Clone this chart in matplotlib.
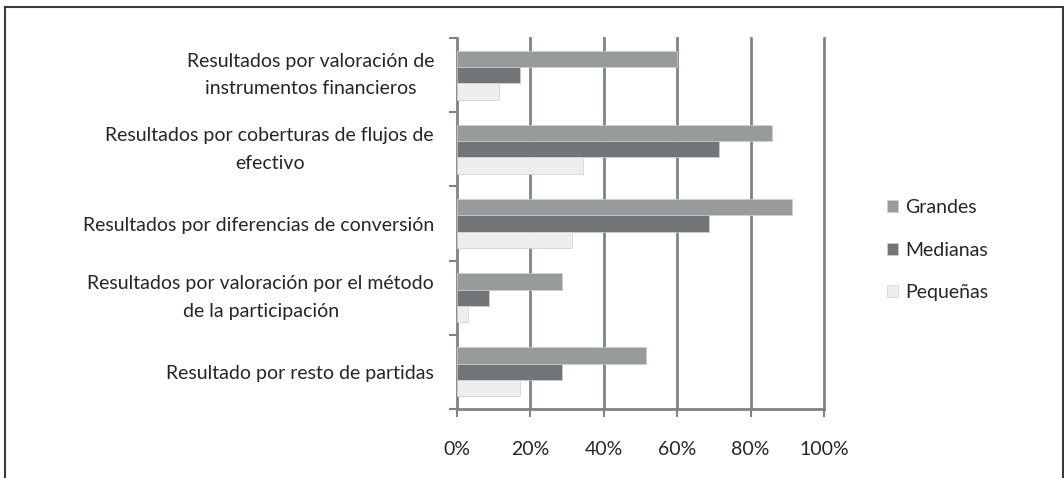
import matplotlib
matplotlib.use("Agg")
import matplotlib.pyplot as plt
import numpy as np
from matplotlib.lines import Line2D

categories = [
    "Resultados por valoración de\ninstrumentos financieros",
    "Resultados por coberturas de flujos de\nefectivo",
    "Resultados por diferencias de conversión",
    "Resultados por valoración por el método\nde la participación",
    "Resultado por resto de partidas",
]
series_names = ["Grandes", "Medianas", "Pequeñas"]
grandes = [60.0, 85.7, 91.4, 28.6, 51.4]
medianas = [17.1, 71.4, 68.6, 8.6, 28.6]
pequenas = [11.4, 34.3, 31.4, 2.9, 17.1]
xticks = [0, 20, 40, 60, 80, 100]
xticklabels = ["0%", "20%", "40%", "60%", "80%", "100%"]

colors = ["#989b9b", "#717577", "#eeeeee"]
grid_color = "#7e8383"
text_color = "#262626"

plt.rcParams['font.family'] = ['Lato', 'DejaVu Sans']
fs = 14

fig = plt.figure(figsize=(10.64, 4.78), dpi=100)
ax = fig.add_axes([457/1064, 1 - 409/478, (824 - 457)/1064, (409 - 38)/478])

idx = np.arange(len(categories))
h = 0.22
for k, (vals, col) in enumerate(zip([grandes, medianas, pequenas], colors)):
    ax.barh(idx + (k - 1) * h, vals, height=h, color=col, label=series_names[k],
            edgecolor="#d0d0d0", linewidth=0.5, zorder=3)

ax.set_xlim(0, 100)
ax.set_ylim(len(categories) - 0.5, -0.5)
ax.set_xticks(xticks)
ax.set_xticklabels(xticklabels, fontsize=fs, color=text_color)
ax.set_yticks(idx)
ax.set_yticklabels(categories, fontsize=fs, color=text_color, linespacing=1.75,
                   multialignment='center')
for lab in ax.get_yticklabels():
    if "\n" in lab.get_text():
        lab.set_verticalalignment('center')
ax.set_yticks(np.arange(-0.5, len(categories)), minor=True)
ax.tick_params(axis='y', which='major', length=0, pad=16.5)
ax.tick_params(axis='y', which='minor', length=6, width=1.5, color=grid_color, direction='out')
ax.tick_params(axis='x', which='major', length=6, width=1.5, color=grid_color, direction='out', pad=17)

for s in ['top', 'right']:
    ax.spines[s].set_visible(False)
for s in ['left', 'bottom']:
    ax.spines[s].set_color(grid_color)
    ax.spines[s].set_linewidth(2)
for xv in xticks[1:]:
    ax.axvline(xv, color=grid_color, linewidth=2, zorder=0, clip_on=False)

leg = fig.legend(loc='center left', bbox_to_anchor=(887/1064, 1 - 250/478), frameon=False,
                 fontsize=fs, handlelength=0.57, handleheight=0.57, handletextpad=0.35,
                 labelspacing=1.3, borderpad=0, borderaxespad=0)
for t in leg.get_texts():
    t.set_color(text_color)

# outer frame
fc = "#3a3a3a"
fig.add_artist(Line2D([4.5/1064, 4.5/1064], [0, 1 - 6.5/478], transform=fig.transFigure, color=fc, lw=1.5))
fig.add_artist(Line2D([1062.5/1064, 1062.5/1064], [0, 1 - 6.5/478], transform=fig.transFigure, color=fc, lw=1.5))
fig.add_artist(Line2D([4.5/1064, 1062.5/1064], [1 - 6.5/478, 1 - 6.5/478], transform=fig.transFigure, color=fc, lw=1.5))

fig.savefig("out.png", dpi=100)
